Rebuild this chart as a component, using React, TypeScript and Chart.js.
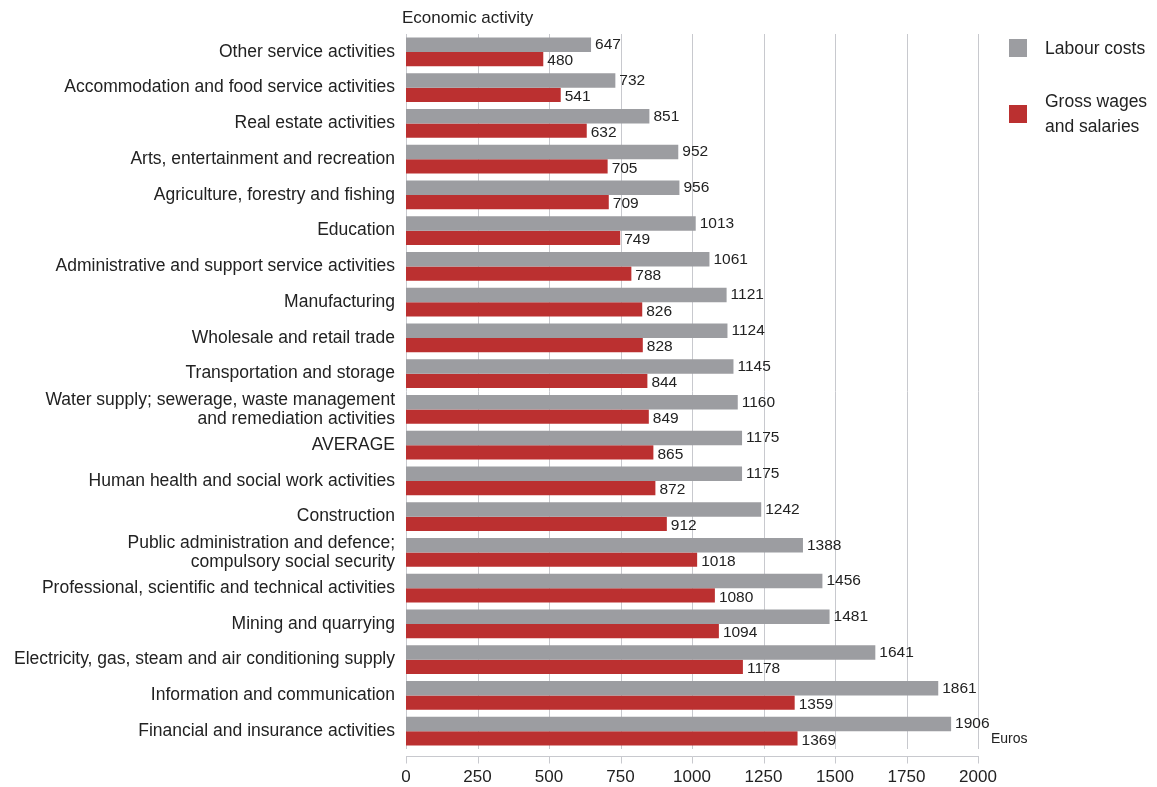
import React, { useEffect, useRef } from "react";
import { Chart, registerables } from "chart.js";

Chart.register(...registerables);

const categories: (string | string[])[] = [
  "Other service activities",
  "Accommodation and food service activities",
  "Real estate activities",
  "Arts, entertainment and recreation",
  "Agriculture, forestry and fishing",
  "Education",
  "Administrative and support service activities",
  "Manufacturing",
  "Wholesale and retail trade",
  "Transportation and storage",
  ["Water supply; sewerage, waste management", "and remediation activities"],
  "AVERAGE",
  "Human health and social work activities",
  "Construction",
  ["Public administration and defence;", "compulsory social security"],
  "Professional, scientific and technical activities",
  "Mining and quarrying",
  "Electricity, gas, steam and air conditioning supply",
  "Information and communication",
  "Financial and insurance activities",
];

const labourCosts = [647, 732, 851, 952, 956, 1013, 1061, 1121, 1124, 1145, 1160, 1175, 1175, 1242, 1388, 1456, 1481, 1641, 1861, 1906];
const grossWages = [480, 541, 632, 705, 709, 749, 788, 826, 828, 844, 849, 865, 872, 912, 1018, 1080, 1094, 1178, 1359, 1369];

const seriesNames = ["Labour costs", ["Gross wages", "and salaries"]];
const xTicks = [0, 250, 500, 750, 1000, 1250, 1500, 1750, 2000];
const axisTitle = "Economic activity";
const unitLabel = "Euros";

const GRAY = "#9c9da1";
const RED = "#bb3030";
const TEXT = "#222222";
const GRID = "#c8c9ce";
const FONT = "'Liberation Sans', Arial, Helvetica, sans-serif";

const decorPlugin = {
  id: "decor",
  beforeDatasetsDraw(chart: any) {
    const { ctx, chartArea, scales } = chart;
    const x = scales.x;
    ctx.save();
    ctx.strokeStyle = GRID;
    ctx.lineWidth = 1;
    const axisY = Math.round(chartArea.bottom + 7) + 0.5;
    xTicks.forEach((v) => {
      const px = Math.round(x.getPixelForValue(v)) + 0.5;
      ctx.beginPath();
      ctx.moveTo(px, chartArea.top);
      ctx.lineTo(px, chartArea.bottom);
      ctx.stroke();
      ctx.beginPath();
      ctx.moveTo(px, axisY);
      ctx.lineTo(px, axisY + 7);
      ctx.stroke();
    });
    ctx.beginPath();
    ctx.moveTo(Math.round(x.getPixelForValue(0)), axisY);
    ctx.lineTo(Math.round(x.getPixelForValue(2000)) + 1, axisY);
    ctx.stroke();
    ctx.restore();
  },
  afterDatasetsDraw(chart: any) {
    const { ctx, chartArea, scales } = chart;
    ctx.save();
    ctx.fillStyle = TEXT;
    ctx.font = `15.5px ${FONT}`;
    ctx.textAlign = "left";
    ctx.textBaseline = "middle";
    chart.data.datasets.forEach((ds: any, di: number) => {
      const meta = chart.getDatasetMeta(di);
      meta.data.forEach((el: any, i: number) => {
        ctx.fillText(String(ds.data[i]), el.x + 4, el.y + (di === 1 ? 2 : 0));
      });
    });
    // axis title
    ctx.font = `17px ${FONT}`;
    ctx.textBaseline = "alphabetic";
    ctx.fillText(axisTitle, chartArea.left - 4, 23);
    // unit label
    ctx.font = `14px ${FONT}`;
    ctx.textBaseline = "middle";
    ctx.fillText(unitLabel, scales.x.getPixelForValue(2000) + 13, chartArea.bottom - 10);
    // legend
    const lx = chartArea.right + 31;
    ctx.font = `17.5px ${FONT}`;
    ctx.fillStyle = GRAY;
    ctx.fillRect(lx, 39, 18, 18);
    ctx.fillStyle = RED;
    ctx.fillRect(lx, 105, 18, 18);
    ctx.fillStyle = TEXT;
    ctx.textBaseline = "alphabetic";
    ctx.fillText(seriesNames[0] as string, lx + 36, 54);
    const n2 = seriesNames[1] as string[];
    ctx.fillText(n2[0], lx + 36, 107);
    ctx.fillText(n2[1], lx + 36, 132);
    ctx.restore();
  },
};

export default function App() {
  const ref = useRef<HTMLCanvasElement>(null);
  useEffect(() => {
    if (!ref.current) return;
    const chart = new Chart(ref.current, {
      type: "bar",
      data: {
        labels: categories as any,
        datasets: [
          { label: "Labour costs", data: labourCosts, backgroundColor: GRAY, categoryPercentage: 0.8, barPercentage: 1.0 },
          { label: "Gross wages and salaries", data: grossWages, backgroundColor: RED, categoryPercentage: 0.8, barPercentage: 1.0 },
        ],
      },
      options: {
        indexAxis: "y",
        animation: false,
        responsive: false,
        devicePixelRatio: 1,
        layout: { padding: { left: 0, right: 179, top: 34, bottom: 0 } },
        plugins: { legend: { display: false }, tooltip: { enabled: false } },
        scales: {
          x: {
            min: 0,
            max: 2000,
            afterBuildTicks: (scale: any) => {
              scale.ticks = xTicks.map((v) => ({ value: v }));
            },
            afterFit: (scale: any) => {
              scale.height = 38;
            },
            grid: { display: false, drawTicks: false },
            border: { display: false },
            ticks: {
              color: TEXT,
              font: { family: FONT, size: 17 },
              padding: 18,
              maxRotation: 0,
              callback: (v: any) => String(v),
            },
          },
          y: {
            afterFit: (scale: any) => {
              scale.width = 406;
            },
            grid: { display: false, drawTicks: false },
            border: { display: false },
            ticks: { color: TEXT, font: { family: FONT, size: 17.5, lineHeight: 1.09 }, padding: 11, autoSkip: false },
          },
        },
      },
      plugins: [decorPlugin],
    });
    return () => chart.destroy();
  }, []);
  return (
    <div style={{ position: "fixed", left: 0, top: 0, width: 1157, height: 787, background: "#fff" }}>
      <canvas ref={ref} width={1157} height={787} style={{ width: 1157, height: 787 }} />
    </div>
  );
}
